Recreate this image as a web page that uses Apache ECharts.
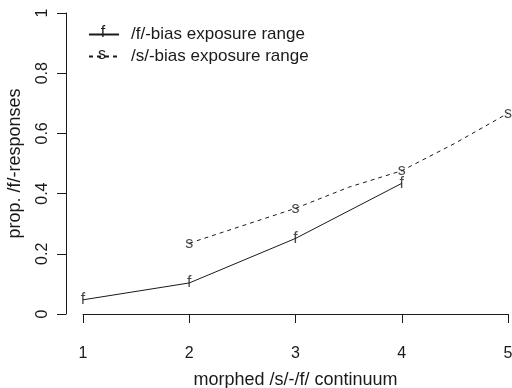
<!DOCTYPE html>
<html>
<head>
<meta charset="utf-8">
<script src="https://cdn.jsdelivr.net/npm/echarts@6/dist/echarts.min.js"></script>
<style>
  html, body { margin: 0; padding: 0; background: #fff; }
  #chart { width: 512px; height: 388px; }
</style>
</head>
<body>
<div id="chart"></div>
<script>
// values
const fName = '/f/-bias exposure range'
const sName = '/s/-bias exposure range'
const fX = [1, 2, 3, 4]
const fY = [0.047, 0.103, 0.251, 0.434]
const sX = [2, 3, 3.5, 4, 4.5, 5]
const sY = [0.235, 0.351, 0.421, 0.476, 0.567, 0.667]
const sMarked = [true, true, false, true, false, true]  // letters only at steps
const xTicks = [1, 2, 3, 4, 5]
const yTicks = [0, 0.2, 0.4, 0.6, 0.8, 1]

const font = 'Liberation Sans, Arial, sans-serif'
const ink = '#1a1a1a'

const fLine = fX.map((x, i) => [x, fY[i]])
const sLine = sX.map((x, i) => [x, sY[i]])
const sMarks = sLine.filter((p, i) => sMarked[i])

const letter = (ch) => ({
  show: true,
  position: 'inside',
  formatter: ch,
  fontFamily: font,
  fontSize: 16,
  color: ink
})

const chart = echarts.init(document.getElementById('chart'))
chart.setOption({
  animation: false,
  textStyle: { fontFamily: font },
  grid: [
    // plot region (R adds 4%; right side cut at the canvas edge)
    { left: 66, top: 1, width: 446, height: 325, outerBoundsMode: 'none', containLabel: false },
    // axis region, 1..5 and 0..1
    { left: 83, top: 13, width: 425, height: 301, outerBoundsMode: 'none', containLabel: false }
  ],
  xAxis: [
    { gridIndex: 0, type: 'value', min: 0.84, max: 0.84 + 446 / 106.25, show: false },
    {
      gridIndex: 1, type: 'value', min: xTicks[0], max: xTicks[xTicks.length - 1], interval: 1,
      offset: 13,
      name: 'morphed /s/-/f/ continuum', nameLocation: 'middle', nameGap: 44,
      nameTextStyle: { fontSize: 18, color: ink },
      axisLine: { show: true, lineStyle: { color: ink, width: 1 } },
      axisTick: { show: true, length: 9, lineStyle: { color: ink } },
      axisLabel: { fontSize: 16, color: ink, margin: 19 },
      splitLine: { show: false }
    }
  ],
  yAxis: [
    { gridIndex: 0, type: 'value', min: -0.04, max: 1.04, show: false },
    {
      gridIndex: 1, type: 'value', min: yTicks[0], max: yTicks[yTicks.length - 1], interval: 0.2,
      offset: 17,
      name: 'prop. /f/-responses', nameLocation: 'middle', nameGap: 42,
      nameTextStyle: { fontSize: 18, color: ink },
      axisLine: { show: true, lineStyle: { color: ink, width: 1 } },
      axisTick: { show: true, length: 9, lineStyle: { color: ink } },
      axisLabel: { fontSize: 16, color: ink, margin: 15, rotate: 90 },
      splitLine: { show: false }
    }
  ],
  legend: {
    data: [fName, sName],
    orient: 'vertical',
    left: 88,
    top: 26,
    padding: 0,
    itemWidth: 30,
    itemHeight: 18,
    itemGap: 5,
    itemStyle: { opacity: 0 },
    textStyle: { fontSize: 17, color: ink, padding: [0, 0, 0, 7] }
  },
  graphic: [
    { type: 'text', x: 103, y: 33, z: 100,
      style: { text: 'f', font: '16px ' + font, fill: ink, align: 'center', verticalAlign: 'middle' } },
    { type: 'text', x: 102, y: 55, z: 100,
      style: { text: 's', font: '16px ' + font, fill: ink, align: 'center', verticalAlign: 'middle' } }
  ],
  series: [
    {
      name: fName, type: 'line', xAxisIndex: 0, yAxisIndex: 0,
      data: fLine, symbol: 'none', z: 2,
      itemStyle: { color: ink },
      lineStyle: { color: ink, width: 1, type: 'solid' }
    },
    {
      name: sName, type: 'line', xAxisIndex: 0, yAxisIndex: 0,
      data: sLine, symbol: 'none', z: 2,
      itemStyle: { color: ink },
      lineStyle: { color: ink, width: 1, type: [4, 4] }
    },
    {
      name: 'f marks', type: 'scatter', xAxisIndex: 0, yAxisIndex: 0,
      data: fLine, symbol: 'circle', symbolSize: 1, z: 3,
      itemStyle: { color: 'rgba(0,0,0,0)' },
      label: letter('f')
    },
    {
      name: 's marks', type: 'scatter', xAxisIndex: 0, yAxisIndex: 0,
      data: sMarks, symbol: 'circle', symbolSize: 1, z: 3,
      itemStyle: { color: 'rgba(0,0,0,0)' },
      label: letter('s')
    }
  ]
})
</script>
</body>
</html>
